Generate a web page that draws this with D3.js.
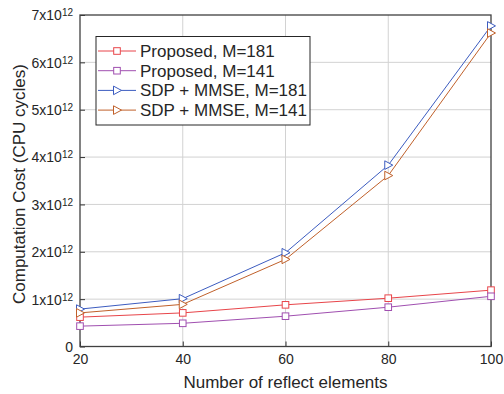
<!DOCTYPE html>
<html>
<head>
<meta charset="utf-8">
<script src="https://cdn.jsdelivr.net/npm/d3@7"></script>
<style>
  body { margin: 0; background: #fff; }
  svg text { font-family: Arial, "Liberation Sans", sans-serif; fill: #262626; }
</style>
</head>
<body>
<svg id="chart" width="504" height="394"></svg>
<script>
'use strict';
// Data
const elements = [20, 40, 60, 80, 100];
const proposed181 = [0.62, 0.71, 0.88, 1.02, 1.19];
const proposed141 = [0.43, 0.49, 0.64, 0.83, 1.06];
const sdp181 = [0.79, 1.01, 1.98, 3.83, 6.77];
const sdp141 = [0.71, 0.89, 1.84, 3.61, 6.62];
const yTicks = [0, 1, 2, 3, 4, 5, 6, 7];
const xTicks = [20, 40, 60, 80, 100];

const series = [
  { name: 'Proposed, M=181', values: proposed181, color: '#e8454a', marker: 'square' },
  { name: 'Proposed, M=141', values: proposed141, color: '#a04fb0', marker: 'square' },
  { name: 'SDP + MMSE, M=181', values: sdp181, color: '#3c5cc0', marker: 'tri' },
  { name: 'SDP + MMSE, M=141', values: sdp141, color: '#c0602a', marker: 'tri' }
];

(function draw() {
  const svg = d3.select('#chart');
  const pL = 80, pR = 491, pT = 15, pB = 346.5;

  const x = d3.scaleLinear().domain([20, 100]).range([pL, pR]);
  const y = d3.scaleLinear().domain([0, 7]).range([pB, pT]);

  // Grid
  const grid = svg.append('g');
  grid.selectAll('.gx').data(xTicks.slice(1, -1)).enter().append('line')
    .attr('x1', d => x(d)).attr('x2', d => x(d)).attr('y1', pT).attr('y2', pB)
    .attr('stroke', '#d2d2d2').attr('stroke-width', 1);
  grid.selectAll('.gy').data(yTicks.slice(1, -1)).enter().append('line')
    .attr('x1', pL).attr('x2', pR).attr('y1', d => y(d)).attr('y2', d => y(d))
    .attr('stroke', '#d2d2d2').attr('stroke-width', 1);

  // Axes (ticks point inward)
  const xAxis = svg.append('g').attr('transform', `translate(0,${pB})`)
    .call(d3.axisBottom(x).tickValues(xTicks).tickSize(-5).tickPadding(8).tickSizeOuter(0));
  xAxis.select('.domain').remove();
  xAxis.selectAll('line').attr('stroke', '#333');
  xAxis.selectAll('text').attr('font-size', 14).attr('fill', '#262626').attr('font-family', null);

  const yAxis = svg.append('g').attr('transform', `translate(${pL},0)`)
    .call(d3.axisLeft(y).tickValues(yTicks).tickSize(-5).tickFormat(''));
  yAxis.select('.domain').remove();
  yAxis.selectAll('line').attr('stroke', '#333');
  yAxis.selectAll('.tick text').remove();
  yAxis.selectAll('.tick').each(function(d) {
    const t = d3.select(this).append('text')
      .attr('x', -7).attr('dy', '0.35em').attr('text-anchor', 'end')
      .attr('font-size', 14);
    if (d === 0) {
      t.text('0');
    } else {
      t.text(`${d}x10`);
      t.append('tspan').attr('dy', '-0.4em').attr('font-size', 10).text('12');
    }
  });

  // Box
  svg.append('rect').attr('x', pL).attr('y', pT).attr('width', pR - pL).attr('height', pB - pT)
    .attr('fill', 'none').attr('stroke', '#404040').attr('stroke-width', 1.3);

  // Lines
  const line = d3.line().x((d, i) => x(elements[i])).y(d => y(d));
  function drawMarker(g, type, color) {
    if (type === 'square') {
      g.append('rect').attr('x', -3.3).attr('y', -3.3).attr('width', 6.6).attr('height', 6.6)
        .attr('fill', '#fff').attr('stroke', color).attr('stroke-width', 1);
    } else {
      g.append('path').attr('d', 'M-3.5,-4.3L4.5,0L-3.5,4.3Z')
        .attr('fill', '#fff').attr('stroke', color).attr('stroke-width', 1);
    }
  }
  const plot = svg.append('g');
  series.forEach(s => {
    plot.append('path').attr('d', line(s.values)).attr('fill', 'none')
      .attr('stroke', s.color).attr('stroke-width', 1);
    s.values.forEach((v, i) => {
      const g = plot.append('g').attr('transform', `translate(${x(elements[i])},${y(v)})`);
      drawMarker(g, s.marker, s.color);
    });
  });

  // Legend
  const lg = svg.append('g');
  lg.append('rect').attr('x', 96).attr('y', 36.5).attr('width', 214).attr('height', 88.5)
    .attr('fill', '#fff').attr('stroke', '#262626').attr('stroke-width', 1);
  series.forEach((s, i) => {
    const cy = 51 + i * 19.7;
    const row = lg.append('g').attr('transform', `translate(0,${cy})`);
    row.append('line').attr('x1', 98).attr('x2', 136).attr('y1', 0).attr('y2', 0)
      .attr('stroke', s.color).attr('stroke-width', 1);
    const m = row.append('g').attr('transform', 'translate(117,0)');
    drawMarker(m, s.marker, s.color);
    row.append('text').attr('x', 140).attr('dy', '0.35em').attr('font-size', 17).text(s.name);
  });

  // Titles
  svg.append('text').attr('x', (pL + pR) / 2).attr('y', 388).attr('text-anchor', 'middle')
    .attr('font-size', 17).text('Number of reflect elements');
  svg.append('text').attr('transform', `translate(25,184) rotate(-90)`)
    .attr('text-anchor', 'middle').attr('font-size', 17).text('Computation Cost (CPU cycles)');
})();
</script>
</body>
</html>
